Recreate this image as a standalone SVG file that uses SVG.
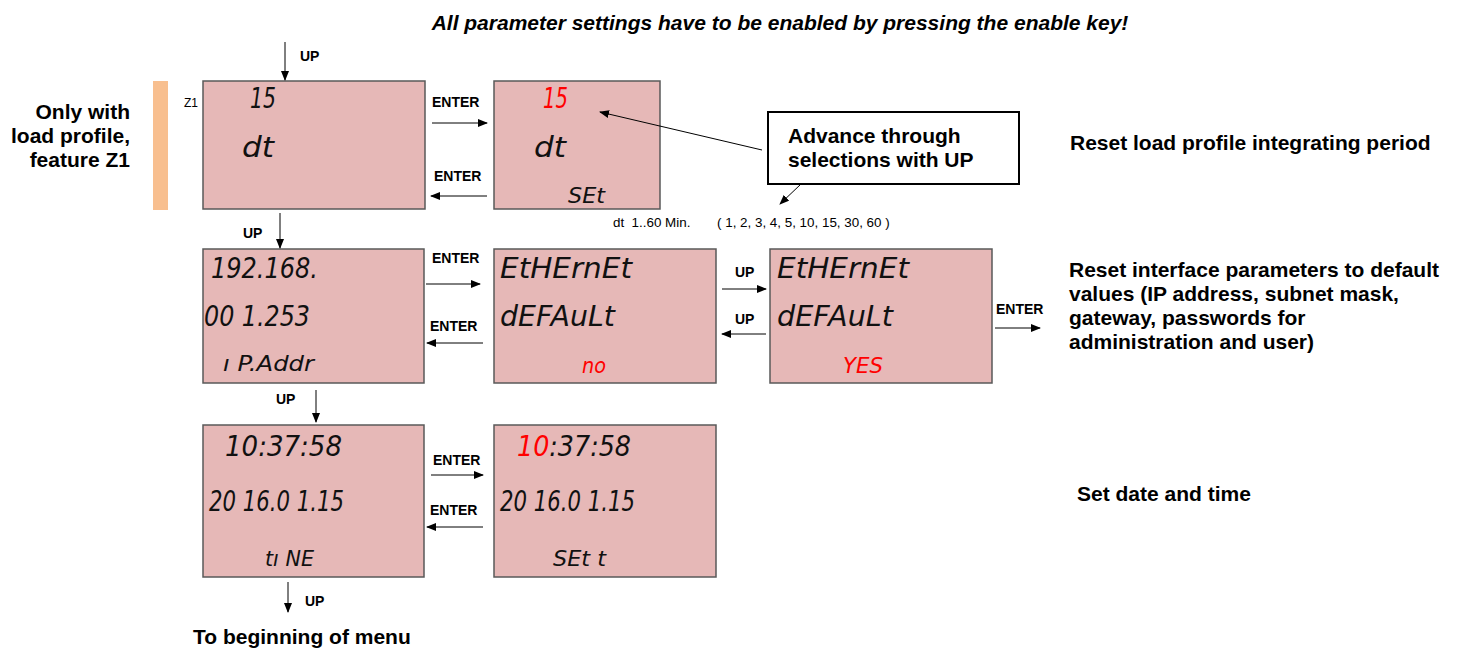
<svg xmlns="http://www.w3.org/2000/svg" width="1464" height="653" viewBox="0 0 1464 653">
<style>
.panel{fill:#E6B8B7;stroke:#595959;stroke-width:1.5}
.lcd{font-family:"DejaVu Sans","Liberation Sans",sans-serif;font-style:italic;font-size:28px;fill:#111}
.lcds{font-family:"DejaVu Sans","Liberation Sans",sans-serif;font-style:italic;font-size:21px;fill:#111}
.red{fill:#FF0000}
.lbl{font-family:"Liberation Sans",Arial,sans-serif;font-weight:bold;font-size:14px;fill:#000}
.big{font-family:"Liberation Sans",Arial,sans-serif;font-weight:bold;font-size:21px;fill:#000}
.small{font-family:"Liberation Sans",Arial,sans-serif;font-size:13.4px;fill:#000}
.ln{stroke:#000;stroke-width:1;fill:none;marker-end:url(#ah)}
</style>
<defs>
<marker id="ah" markerWidth="10" markerHeight="8" refX="9" refY="4" orient="auto" markerUnits="userSpaceOnUse">
<path d="M0,0 L10,4 L0,8 Z" fill="#000"/>
</marker>
</defs>
<rect width="1464" height="653" fill="#fff"/>
<text x="780" y="30" text-anchor="middle" font-family="Liberation Sans, Arial, sans-serif" font-weight="bold" font-style="italic" font-size="21" fill="#000">All parameter settings have to be enabled by pressing the enable key!</text>

<g id="note-z1">
<rect x="153" y="81" width="15" height="129" fill="#F8BF8F"/>
<text class="big" text-anchor="end" x="130" y="119">Only with</text>
<text class="big" text-anchor="end" x="130" y="143">load profile,</text>
<text class="big" text-anchor="end" x="130" y="167">feature Z1</text>
<text x="184" y="107" font-family="Liberation Sans, Arial, sans-serif" font-size="12">Z1</text>
</g>

<g id="panel-dt">
<rect class="panel" x="203" y="81" width="222" height="128"/>
<text class="lcd" x="250" y="108" textLength="26" lengthAdjust="spacingAndGlyphs">15</text>
<text class="lcd" x="242" y="157" textLength="32" lengthAdjust="spacingAndGlyphs">dt</text>
</g>
<g id="panel-dt-set">
<rect class="panel" x="494" y="81" width="166" height="128"/>
<text class="lcd red" x="543" y="108" textLength="25" lengthAdjust="spacingAndGlyphs">15</text>
<text class="lcd" x="534" y="157" textLength="32" lengthAdjust="spacingAndGlyphs">dt</text>
<text class="lcds" x="568" y="203" textLength="37" lengthAdjust="spacingAndGlyphs">SEt</text>
</g>
<g id="callout">
<rect x="768" y="112" width="251" height="72" fill="#fff" stroke="#000" stroke-width="2"/>
<text class="big" x="788" y="143">Advance through</text>
<text class="big" x="788" y="167">selections with UP</text>
</g>
<text class="small" x="613" y="227" xml:space="preserve">dt  1..60 Min.</text>
<text class="small" x="717" y="227">( 1, 2, 3, 4, 5, 10, 15, 30, 60 )</text>
<text class="big" x="1070" y="150">Reset load profile integrating period</text>

<g id="panel-ip">
<rect class="panel" x="203" y="249" width="221" height="134"/>
<text class="lcd" x="211" y="278" textLength="107" lengthAdjust="spacingAndGlyphs">192.168.</text>
<text class="lcd" x="204" y="326" textLength="106" lengthAdjust="spacingAndGlyphs">00 1.253</text>
<text class="lcds" x="223" y="371" textLength="91" lengthAdjust="spacingAndGlyphs">ı P.Addr</text>
</g>
<g id="panel-eth-no">
<rect class="panel" x="494" y="249" width="222" height="134"/>
<text class="lcd" x="500" y="278" textLength="132" lengthAdjust="spacingAndGlyphs">EtHErnEt</text>
<text class="lcd" x="500" y="326" textLength="115" lengthAdjust="spacingAndGlyphs">dEFAuLt</text>
<text class="lcds red" x="582" y="373" textLength="24" lengthAdjust="spacingAndGlyphs">no</text>
</g>
<g id="panel-eth-yes">
<rect class="panel" x="770" y="249" width="222" height="134"/>
<text class="lcd" x="777" y="278" textLength="132" lengthAdjust="spacingAndGlyphs">EtHErnEt</text>
<text class="lcd" x="777" y="326" textLength="116" lengthAdjust="spacingAndGlyphs">dEFAuLt</text>
<text class="lcds red" x="843" y="373" textLength="40" lengthAdjust="spacingAndGlyphs">YES</text>
</g>
<text class="big" x="1069" y="277">Reset interface parameters to default</text>
<text class="big" x="1069" y="301">values (IP address, subnet mask,</text>
<text class="big" x="1069" y="325">gateway, passwords for</text>
<text class="big" x="1069" y="349">administration and user)</text>

<g id="panel-time">
<rect class="panel" x="203" y="425" width="221" height="152"/>
<text class="lcd" x="225" y="456" textLength="117" lengthAdjust="spacingAndGlyphs">10:37:58</text>
<text class="lcd" x="209" y="511" textLength="135" lengthAdjust="spacingAndGlyphs">20 16.0 1.15</text>
<text class="lcds" x="265" y="566" textLength="49" lengthAdjust="spacingAndGlyphs">tı NE</text>
</g>
<g id="panel-time-set">
<rect class="panel" x="494" y="425" width="222" height="152"/>
<text class="lcd" x="517" y="456" textLength="114" lengthAdjust="spacingAndGlyphs"><tspan class="red">10</tspan>:37:58</text>
<text class="lcd" x="500" y="511" textLength="135" lengthAdjust="spacingAndGlyphs">20 16.0 1.15</text>
<text class="lcds" x="553" y="566" textLength="53" lengthAdjust="spacingAndGlyphs">SEt t</text>
</g>
<text class="big" x="1077" y="501">Set date and time</text>
<text class="big" x="193" y="644">To beginning of menu</text>

<g id="connectors">
<line class="ln" x1="285" y1="42" x2="285" y2="80"/>
<text class="lbl" x="300" y="61">UP</text>
<line class="ln" x1="432" y1="123" x2="487" y2="123"/>
<text class="lbl" x="432" y="107">ENTER</text>
<line class="ln" x1="487" y1="196" x2="431" y2="196"/>
<text class="lbl" x="434" y="181">ENTER</text>
<line class="ln" x1="762" y1="150" x2="600" y2="112"/>
<line class="ln" x1="801" y1="184" x2="780" y2="204"/>

<line class="ln" x1="280" y1="213" x2="280" y2="248"/>
<text class="lbl" x="243" y="238">UP</text>
<line class="ln" x1="426" y1="284" x2="480" y2="284"/>
<text class="lbl" x="432" y="263">ENTER</text>
<line class="ln" x1="483" y1="343" x2="427" y2="343"/>
<text class="lbl" x="430" y="331">ENTER</text>
<line class="ln" x1="722" y1="289" x2="766" y2="289"/>
<text class="lbl" x="735" y="277">UP</text>
<line class="ln" x1="766" y1="334" x2="722" y2="334"/>
<text class="lbl" x="735" y="324">UP</text>
<line class="ln" x1="995" y1="328" x2="1040" y2="328"/>
<text class="lbl" x="996" y="314">ENTER</text>

<line class="ln" x1="316" y1="390" x2="316" y2="422"/>
<text class="lbl" x="276" y="404">UP</text>
<line class="ln" x1="431" y1="475" x2="483" y2="475"/>
<text class="lbl" x="433" y="465">ENTER</text>
<line class="ln" x1="483" y1="527" x2="427" y2="527"/>
<text class="lbl" x="430" y="515">ENTER</text>
<line class="ln" x1="288" y1="582" x2="288" y2="612"/>
<text class="lbl" x="305" y="606">UP</text>
</g>
</svg>
